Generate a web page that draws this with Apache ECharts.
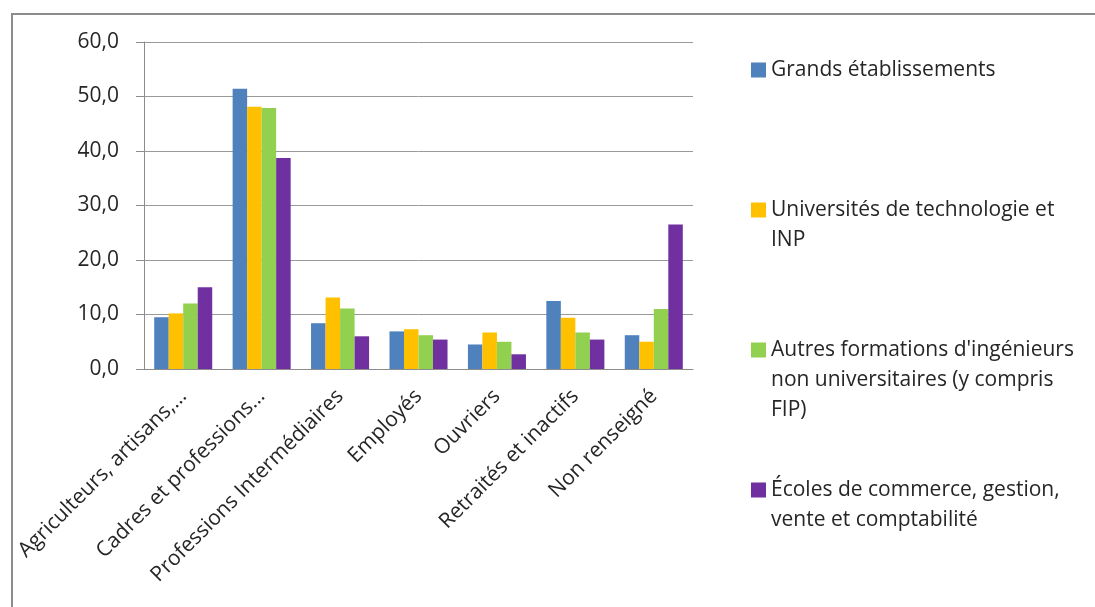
<!DOCTYPE html>
<html>
<head>
<meta charset="utf-8">
<script src="https://cdn.jsdelivr.net/npm/echarts@6/dist/echarts.min.js"></script>
<style>
html,body{margin:0;padding:0;background:#fff;overflow:hidden;}
#c{width:1095px;height:607px;}
</style>
</head>
<body>
<div id="c"></div>
<script>
const categories = ["Agriculteurs, artisans,…", "Cadres et professions…", "Professions Intermédiaires", "Employés", "Ouvriers", "Retraités et inactifs", "Non renseigné"];
const seriesNames = ["Grands établissements", "Universités de technologie et INP", "Autres formations d'ingénieurs non universitaires (y compris FIP)", "Écoles de commerce, gestion, vente et comptabilité"];
const legendLines = [
  ["Grands établissements"],
  ["Universités de technologie et", "INP"],
  ["Autres formations d'ingénieurs", "non universitaires (y compris", "FIP)"],
  ["Écoles de commerce, gestion,", "vente et comptabilité"]
];
const grandsEtab = [9.5, 51.4, 8.4, 6.9, 4.5, 12.5, 6.2];
const universitesTech = [10.2, 48.1, 13.1, 7.3, 6.7, 9.4, 5.0];
const autresFormations = [12.0, 47.9, 11.1, 6.2, 5.0, 6.7, 11.0];
const ecolesCommerce = [15.0, 38.7, 6.0, 5.4, 2.7, 5.4, 26.5];
const yTicks = [0, 10, 20, 30, 40, 50, 60];
const colors = ["#4f81bd", "#ffc000", "#92d050", "#7030a0"];

const FONT = "Open Sans";
const seriesData = [grandsEtab, universitesTech, autresFormations, ecolesCommerce];
const legendTops = [55, 195, 335, 475];
const SQ = 15, LH = 30;

const legends = legendLines.map((lines, i) => {
  const H = SQ + (lines.length - 1) * LH;
  return {
    orient: 'vertical',
    left: 751,
    top: legendTops[i],
    padding: 0,
    itemWidth: SQ,
    itemHeight: H,
    itemGap: 0,
    symbolKeepAspect: true,
    selectedMode: false,
    data: [{ name: seriesNames[i], icon: 'path://M0,0H' + SQ + 'V' + SQ + 'H0Z M0,' + H + 'h0.01' }],
    formatter: () => lines.join('\n'),
    textStyle: { fontFamily: FONT, fontSize: 21, color: '#262626', lineHeight: LH }
  };
});

const chart = echarts.init(document.getElementById('c'));
chart.setOption({
  animation: false,
  color: colors,
  graphic: [{
    type: 'rect',
    shape: { x: 12, y: 14, width: 1300, height: 800 },
    style: { fill: 'none', stroke: '#8c8c8c', lineWidth: 2 },
    silent: true
  }],
  grid: { left: 144, top: 42, right: 402, bottom: 238, containLabel: false },
  legend: legends,
  xAxis: {
    type: 'category',
    data: categories,
    axisLine: { lineStyle: { color: '#8c8c8c', width: 1 } },
    axisTick: { length: 8, lineStyle: { color: '#8c8c8c' } },
    axisLabel: { interval: 0, rotate: 45, margin: 24, fontFamily: FONT, fontSize: 21, color: '#262626' }
  },
  yAxis: {
    type: 'value',
    min: yTicks[0],
    max: yTicks[yTicks.length - 1],
    interval: 10,
    axisLine: { show: true, lineStyle: { color: '#8c8c8c', width: 1 } },
    axisTick: { show: true, length: 8, lineStyle: { color: '#8c8c8c' } },
    splitLine: { lineStyle: { color: '#9a9a9a', width: 1 } },
    axisLabel: { margin: 25, fontFamily: FONT, fontSize: 21, color: '#262626', formatter: v => v.toFixed(1).replace('.', ',') }
  },
  series: seriesData.map((d, i) => ({
    name: seriesNames[i],
    type: 'bar',
    data: d,
    barGap: '0%',
    barCategoryGap: '26%',
    itemStyle: { color: colors[i] }
  }))
});
</script>
</body>
</html>
